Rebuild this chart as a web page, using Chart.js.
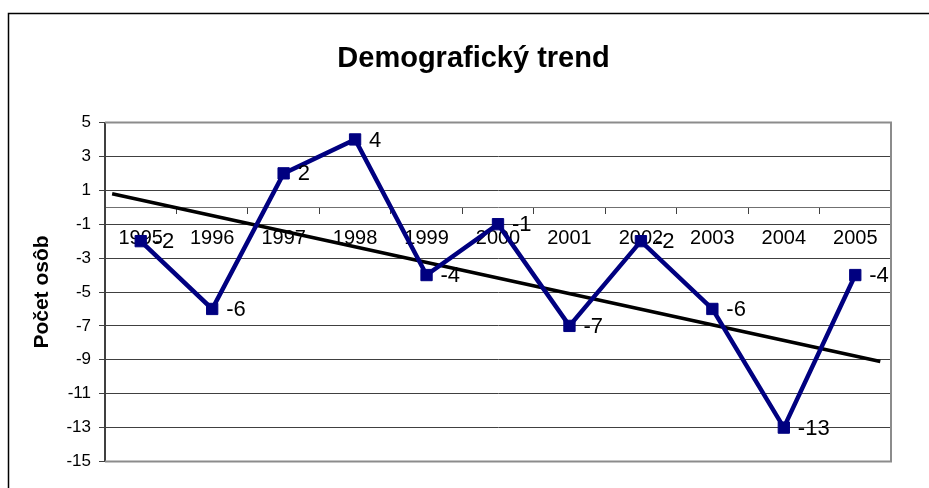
<!DOCTYPE html>
<html>
<head>
<meta charset="utf-8">
<script src="https://cdn.jsdelivr.net/npm/chart.js@4.4.1/dist/chart.umd.min.js"></script>
<style>
    body { margin: 0; background: #fff; }
    #wrap { width: 929px; height: 488px; }
</style>
</head>
<body>
<div id="wrap"><canvas id="chart"></canvas></div>
<script>
// Data
const years = ['1995', '1996', '1997', '1998', '1999', '2000', '2001', '2002', '2003', '2004', '2005'];
const values = [-2, -6, 2, 4, -4, -1, -7, -2, -6, -13, -4];
const yTicks = [5, 3, 1, -1, -3, -5, -7, -9, -11, -13, -15];
// trend line end points (year position, value) as drawn in the picture
const trendX = [1994.6, 2005.35];
const trendY = [0.8, -9.1];

// outer frame + plot area border
const framePlugin = {
    id: 'frame',
    beforeDraw(chart) {
        const ctx = chart.ctx;
        ctx.save();
        ctx.fillStyle = '#fff';
        ctx.fillRect(0, 0, chart.width, chart.height);
        ctx.strokeStyle = '#000';
        ctx.lineWidth = 1.5;
        ctx.strokeRect(8.5, 13.5, chart.width + 20, chart.height + 20);
        ctx.restore();
    },
    beforeDatasetsDraw(chart) {
        const { ctx, chartArea: a } = chart;
        ctx.save();
        ctx.strokeStyle = '#8c8c8c';
        ctx.lineWidth = 2;
        ctx.beginPath();
        ctx.moveTo(a.left, a.top);
        ctx.lineTo(a.right, a.top);
        ctx.lineTo(a.right, a.bottom);
        ctx.lineTo(a.left, a.bottom);
        ctx.stroke();
        ctx.restore();
    }
};

// value labels next to the points
const labelPlugin = {
    id: 'pointLabels',
    afterDatasetsDraw(chart) {
        const ctx = chart.ctx;
        const meta = chart.getDatasetMeta(0);
        ctx.save();
        ctx.font = '22px Arial, "Liberation Sans", sans-serif';
        ctx.fillStyle = '#000';
        ctx.textAlign = 'left';
        ctx.textBaseline = 'middle';
        meta.data.forEach((pt, i) => {
            ctx.fillText(String(values[i]), pt.x + 14, pt.y + 1);
        });
        ctx.restore();
    }
};

const ctx = document.getElementById('chart').getContext('2d');
new Chart(ctx, {
    type: 'line',
    data: {
        labels: years,
        datasets: [{
            label: 'Počet osôb',
            data: values,
            borderColor: '#000080',
            backgroundColor: '#000080',
            borderWidth: 4.5,
            pointStyle: 'rect',
            pointRadius: 8,
            pointBorderWidth: 1,
            tension: 0,
            order: 0
        }, {
            label: 'Trend',
            data: trendX.map((x, i) => ({ x: x, y: trendY[i] })),
            xAxisID: 'xt',
            borderColor: '#000',
            borderWidth: 3.5,
            pointRadius: 0,
            order: 1
        }]
    },
    options: {
        responsive: true,
        maintainAspectRatio: false,
        animation: false,
        layout: { padding: { left: 56, right: 38, top: 0, bottom: 26.5 } },
        plugins: {
            legend: { display: false },
            tooltip: { enabled: false },
            title: {
                display: true,
                text: 'Demografický trend',
                color: '#000',
                font: { family: 'Arial, "Liberation Sans", sans-serif', size: 29, weight: 'bold' },
                padding: { top: 42, bottom: 45.7 }
            }
        },
        scales: {
            x: {
                type: 'category',
                position: { y: 0 },
                offset: true,
                grid: {
                    offset: true,
                    drawOnChartArea: false,
                    drawTicks: true,
                    tickLength: 6,
                    color: '#404040'
                },
                border: { display: true, color: '#707070', width: 1 },
                ticks: {
                    color: '#000',
                    padding: 13,
                    maxRotation: 0,
                    font: { family: 'Arial, "Liberation Sans", sans-serif', size: 20 }
                }
            },
            xt: {
                type: 'linear',
                display: false,
                min: 1994.5,
                max: 2005.5
            },
            y: {
                min: -15,
                max: 5,
                afterBuildTicks(axis) {
                    axis.ticks = yTicks.map(v => ({ value: v }));
                },
                afterFit(axis) {
                    axis.width = 49;
                },
                grid: {
                    color: '#404040',
                    lineWidth: 1,
                    tickLength: 6
                },
                border: { display: true, color: '#404040', width: 2 },
                ticks: {
                    color: '#000',
                    padding: 8,
                    font: { family: 'Arial, "Liberation Sans", sans-serif', size: 17 }
                },
                title: {
                    display: true,
                    text: 'Počet osôb',
                    color: '#000',
                    padding: { top: -26, bottom: 0 },
                    font: { family: 'Arial, "Liberation Sans", sans-serif', size: 21, weight: 'bold' }
                }
            }
        }
    },
    plugins: [framePlugin, labelPlugin]
});
</script>
</body>
</html>
